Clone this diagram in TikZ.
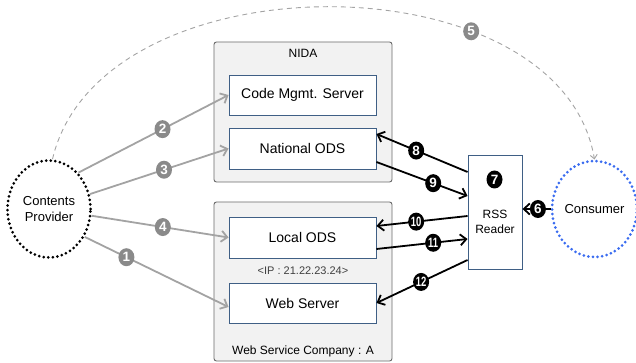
\documentclass[tikz,border=0pt]{standalone}
\usepackage{graphicx}
\usepackage{fontspec}
\setmainfont{Liberation Sans}
\usetikzlibrary{arrows.meta,shapes.geometric,calc}

\definecolor{panelfill}{HTML}{F2F2F2}
\definecolor{panelline}{HTML}{6A6A6A}
\definecolor{boxline}{HTML}{3F5F85}
\definecolor{flowgray}{HTML}{A3A3A3}
\definecolor{badgegray}{HTML}{8A8A8A}
\definecolor{consblue}{HTML}{3A6CF0}
\definecolor{iptext}{HTML}{404040}

\newcommand{\twodig}[1]{\scalebox{0.7}[1]{#1}}

\tikzset{
  panel/.style={draw=panelline, fill=panelfill, line width=0.9pt, rounded corners=2.5pt, inner sep=0pt},
  server/.style={draw=boxline, fill=white, line width=0.9pt, inner sep=0pt,
    font=\fontsize{14}{16}\selectfont},
  party/.style={ellipse, draw, line width=3pt, dash pattern=on 0pt off 4.6pt, line cap=round,
    inner sep=0pt, align=center, font=\fontsize{13}{15.5}\selectfont},
  caption/.style={inner sep=0pt, font=\fontsize{12}{14}\selectfont},
  badge/.style={ellipse, inner sep=0pt, minimum width=16pt, minimum height=18pt,
    text=white, font=\bfseries\fontsize{13.5}{13.5}\selectfont},
  graybadge/.style={badge, fill=badgegray},
  blackbadge/.style={badge, fill=black},
  feed/.style={draw=flowgray, line width=1.8pt, -{Straight Barb[length=6pt,width=11pt]}},
  pull/.style={draw=black, line width=1.8pt, -{Straight Barb[length=6pt,width=11pt]}},
  notify/.style={draw=flowgray, line width=0.9pt, dash pattern=on 5pt off 4pt,
    -{Straight Barb[length=4pt,width=7pt]}},
}

\begin{document}
\begin{tikzpicture}[x=1pt,y=-1pt]
\useasboundingbox (0,0) rectangle (636,363);

% organisation panels
\node[panel, minimum width=178pt, minimum height=140pt] (nida) at (303,112) {};
\node[caption] (nidatitle) at (303,53) {NIDA};
\node[panel, minimum width=178pt, minimum height=159pt] (wsc) at (303,281.5) {};
\node[caption] (wsctitle) at (303,351) {Web Service Company : A};

% servers
\node[server, minimum width=147pt, minimum height=40pt] (cms) at (302.5,95) {Code Mgmt. Server};
\node[server, minimum width=147pt, minimum height=41pt] (nods) at (302.5,148.5) {National ODS};
\node[server, minimum width=147pt, minimum height=41pt] (lods) at (302.5,237.5) {Local ODS};
\node[inner sep=0pt, text=iptext, font=\fontsize{11}{13}\selectfont] (ip) at (303,271) {<IP : 21.22.23.24>};
\node[server, minimum width=147pt, minimum height=40pt] (web) at (302.5,303) {Web Server};

% RSS reader
\node[draw=boxline, fill=white, line width=0.9pt, minimum width=54pt, minimum height=114pt] (rss) at (495,212) {};
\node[caption, align=center] (rsstext) at (495,222) {RSS\\[1pt]Reader};
\node[blackbadge] (b7) at (494.5,179.5) {7};

% parties
\node[party, draw=black, minimum width=83pt, minimum height=97pt] (cp) at (49,209) {Contents\\Provider};
\node[party, draw=consblue, minimum width=79pt, minimum height=96pt] (cons) at (594.5,209) {Consumer};

% provider publishing flows
\draw[feed] (cp.51) -- (cms.west) node[pos=0.56, graybadge] {2};
\draw[feed] (cp.20.6) -- (nods.west) node[pos=0.534, graybadge] {3};
\draw[feed] (cp.-9.7) -- (lods.west) node[pos=0.52, graybadge] {4};
\draw[feed] (cp.-38.7) -- ($(web.west)+(0,4)$) node[pos=0.29, graybadge] {1};

% subscription notice
\draw[notify] (cp.86) .. controls (100,-44) and (560,-44) .. (cons.north)
  node[pos=0.7, graybadge] {5};

% consumer to reader
\draw[pull] (cons.west) -- (cons.west -| rss.east) node[pos=0.45, blackbadge] {6};

% reader exchanges
\draw[pull] ($(rss.west)+(0,-40)$) -- ($(nods.east)+(0,-14.5)$) node[pos=0.564, blackbadge] {8};
\draw[pull] ($(nods.east)+(0,13.5)$) -- ($(rss.west)+(0,-16)$) node[pos=0.623, blackbadge] {9};
\draw[pull] ($(rss.west)+(0,4)$) -- ($(lods.east)+(0,-11.5)$) node[pos=0.564, blackbadge] {\twodig{10}};
\draw[pull] ($(lods.east)+(0,11.5)$) -- ($(rss.west)+(0,27)$) node[pos=0.623, blackbadge] {\twodig{11}};
\draw[pull] ($(rss.west)+(0,48)$) -- (web.east) node[pos=0.51, blackbadge] {\twodig{12}};
\end{tikzpicture}
\end{document}
